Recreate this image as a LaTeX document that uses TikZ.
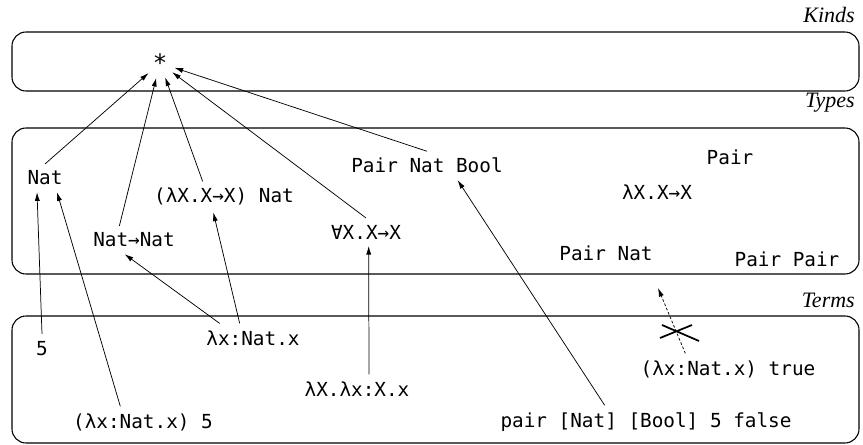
\documentclass[tikz,border=0pt]{standalone}
\usepackage{fontspec}
\newfontfamily\tyfont{DejaVu Sans Mono}
\newfontfamily\lvlfont{Liberation Serif}
\usetikzlibrary{arrows.meta}
\begin{document}
\begin{tikzpicture}[x=0.75pt, y=-0.75pt, >={Latex[length=6.5pt,width=3.8pt]},
    tm/.style={font=\tyfont\fontsize{14.5}{17}\selectfont, inner sep=5pt, anchor=base},
    lbl/.style={font=\lvlfont\itshape\fontsize{16.5}{19}\selectfont, anchor=base east, inner sep=0pt},
    layer/.style={line width=0.8pt, rounded corners=10.5pt},
    edge/.style={->, line width=0.55pt}]
    \useasboundingbox (0,0) rectangle (863,445);

    % the three levels
    \draw[layer] (12,32) rectangle (859,91);
    \draw[layer] (12,128) rectangle (859,274);
    \draw[layer] (12,316) rectangle (859,443);
    \node[lbl] (kinds) at (855,23) {Kinds};
    \node[lbl] (types) at (855,108) {Types};
    \node[lbl] (terms) at (855,307) {Terms};

    % kinds
    \node[tm, font=\tyfont\fontsize{18}{20}\selectfont, circle, inner sep=0pt, minimum size=22.5pt, anchor=center] (star) at (160,63) {*};

    % types
    \node[tm] (nat) at (45,185) {Nat};
    \node[tm] (natnat) at (134,247) {Nat→Nat};
    \node[tm] (tapp) at (224,203) {(λX.X→X) Nat};
    \node[tm] (forall) at (366,239) {∀X.X→X};
    \node[tm] (pnb) at (427,173) {Pair Nat Bool};
    \node[tm] (pair) at (730,165) {Pair};
    \node[tm] (tlam) at (657,200) {λX.X→X};
    \node[tm] (pnat) at (606,260) {Pair Nat};
    \node[tm] (ppair) at (787,267) {Pair Pair};

    % terms
    \node[tm] (five) at (42,355) {5};
    \node[tm] (lam) at (253,345) {λx:Nat.x};
    \node[tm] (tlamt) at (357,396) {λX.λx:X.x};
    \node[tm] (app) at (143,428) {(λx:Nat.x) 5};
    \node[tm] (apptrue) at (728,375) {(λx:Nat.x) true};
    \node[tm] (pairt) at (646,427) {pair [Nat] [Bool] 5 false};
    \coordinate (nowhere) at (658,288);

    \draw[edge] (nat.north) -- (star);
    \draw[edge] ([xshift=-11pt]natnat.north) -- (star);
    \draw[edge] ([xshift=-16pt]tapp.north) -- (star);
    \draw[edge] (forall.north) -- (star); \draw[edge] (pnb.north) -- (star);

    \draw[edge] (five.north) -- ([xshift=-6pt]nat.south);
    \draw[edge] ([xshift=-17pt]app.north) -- ([xshift=9pt]nat.south);
    \draw[edge] ([xshift=-25pt]lam.north) -- ([xshift=-7pt]natnat.south);
    \draw[edge] ([xshift=-10pt]lam.north) -- ([xshift=-8pt]tapp.south);
    \draw[edge] ([xshift=9pt]tlamt.north) -- ([xshift=2pt]forall.south);
    \draw[edge] ([xshift=-31pt]pairt.north) -- ([xshift=23pt]pnb.south);

    % ill-typed term: no type
    \draw[edge, dash pattern=on 2pt off 1.5pt] ([xshift=-32pt]apptrue.north) -- (nowhere);
    \draw[line width=1.3pt] (660,338) -- (692,325) (662,325) -- (699,341);
\end{tikzpicture}
\end{document}
